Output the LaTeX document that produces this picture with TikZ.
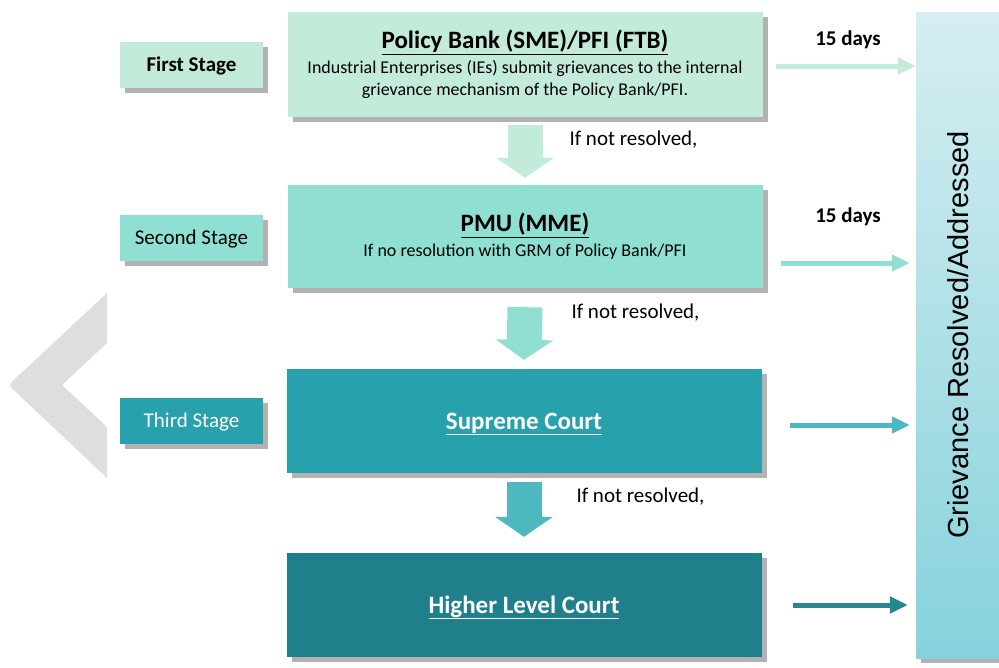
\documentclass[tikz,border=0pt]{standalone}
\usepackage{fontspec}
\setmainfont{Carlito}
\newfontfamily\barfont{Liberation Sans}
\usetikzlibrary{positioning,arrows.meta,calc,shadows}
\definecolor{mintA}{HTML}{C3EBD9}
\definecolor{mintB}{HTML}{8FDFD3}
\definecolor{tealC}{HTML}{27A2AC}
\definecolor{tealD}{HTML}{1F808C}
\definecolor{arrowC}{HTML}{4DB8BF}
\definecolor{arrowD}{HTML}{268792}
\definecolor{barTop}{HTML}{D6EEF1}
\definecolor{barBot}{HTML}{86D2DC}
\definecolor{chevgray}{HTML}{DEDEDE}
\tikzset{
  boxshadow/.style={drop shadow={shadow xshift=5pt, shadow yshift=-5pt, fill=black, opacity=0.3}},
  stagebox/.style={boxshadow, minimum width=143pt, minimum height=46pt, inner sep=0pt, text height=13.5pt, text depth=0pt, font=\fontsize{21}{25}\selectfont},
  mainbox/.style={boxshadow, minimum width=475pt, minimum height=104pt, inner sep=0pt, align=center, font=\fontsize{18}{22}\selectfont},
  courtbox/.style={mainbox, text=white, text height=16pt, text depth=0pt, font=\fontsize{25}{30}\selectfont\bfseries},
  downarrow/.style={line width=35pt, -{Triangle[length=20pt,width=57pt]}},
  sidearrow/.style={line width=5pt, -{Triangle[length=18pt,width=16pt]}},
  note/.style={anchor=west, font=\fontsize{21}{25}\selectfont},
}

\begin{document}
\begin{tikzpicture}[x=1pt,y=-1pt]
\useasboundingbox (0,0) rectangle (999,667);

% Background chevron
\fill[chevgray] (107,293) -- (17,377) .. controls (8,385) .. (17,393) -- (107,478)
  -- (107,427) -- (62,385) -- (107,343) -- cycle;

% Result bar
\node[boxshadow, top color=barTop, bottom color=barBot, minimum width=84pt, minimum height=646pt, inner sep=0pt] (done) at (958,335) {};
\node[rotate=90, font=\barfont\fontsize{29}{34}\selectfont] (donetext) at (done.center) {Grievance Resolved/Addressed};

% Stage 1
\node[stagebox, fill=mintA] (stage1) at (191.5,65) {\bfseries First Stage};
\node[mainbox, fill=mintA, minimum height=105pt] (box1) at (525,64.5) {{\fontsize{25}{30}\selectfont\bfseries\underline{Policy Bank (SME)/PFI (FTB)}}\\[3pt]
  Industrial Enterprises (IEs) submit grievances to the internal\\
  grievance mechanism of the Policy Bank/PFI.};

% Stage 2
\node[stagebox, fill=mintB] (stage2) at (191.5,237.5) {Second Stage};
\node[mainbox, fill=mintB, minimum height=103pt] (box2) at (525,236.5) {{\fontsize{25}{30}\selectfont\bfseries\underline{PMU (MME)}}\\[3pt]
  If no resolution with GRM of Policy Bank/PFI};

% Stage 3
\node[stagebox, fill=tealC, text=white] (stage3) at (191.5,421) {Third Stage};
\node[courtbox, fill=tealC] (box3) at (524,421) {\underline{Supreme Court}};

% Last step
\node[courtbox, fill=tealD] (box4) at (524,605) {\underline{Higher Level Court}};

% Escalation
\draw[downarrow, mintA] ([yshift=-8pt]box1.south) -- ([yshift=7pt]box2.north);
\draw[downarrow, mintB] ([yshift=-19pt]box2.south) -- ([yshift=9pt]box3.north);
\draw[downarrow, arrowC] ([yshift=-9pt]box3.south) -- ([yshift=16pt]box4.north);
\node[note] (ifnot1) at (566,140) {If not resolved,};
\node[note] (ifnot2) at (568,313) {If not resolved,};
\node[note] (ifnot3) at (573,497) {If not resolved,};

% To result bar
\draw[sidearrow, mintA] ([xshift=13pt,yshift=-1.5pt]box1.east) -- ([yshift=-1.5pt]box1.east -| done.west);
\draw[sidearrow, mintB] ([xshift=18pt,yshift=-26.5pt]box2.east) -- ([xshift=-6pt,yshift=-26.5pt]box2.east -| done.west);
\draw[sidearrow, arrowC] ([xshift=28pt,yshift=-4pt]box3.east) -- ([xshift=-6pt,yshift=-4pt]box3.east -| done.west);
\draw[sidearrow, arrowD] ([xshift=31pt]box4.east) -- ([xshift=-8pt]box4.east -| done.west);
\node[font=\fontsize{21}{25}\selectfont\bfseries] (days1) at (848,40) {15 days};
\node[font=\fontsize{21}{25}\selectfont\bfseries] (days2) at (848,217) {15 days};
\end{tikzpicture}
\end{document}
